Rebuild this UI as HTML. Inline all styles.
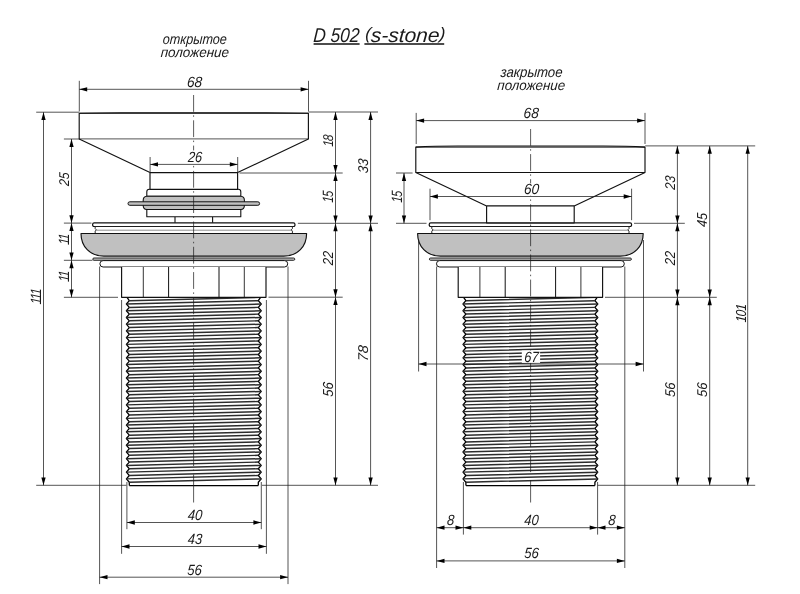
<!DOCTYPE html>
<html lang="ru">
<head>
<meta charset="utf-8">
<title>D 502 (s-stone)</title>
<style>
html,body{margin:0;padding:0;background:#fff;}
body{width:800px;height:594px;overflow:hidden;font-family:"Liberation Sans","DejaVu Sans",sans-serif;}
svg{display:block;filter:grayscale(1);}
</style>
</head>
<body>
<svg width="800" height="594" viewBox="0 0 800 594" font-family="'Liberation Sans', 'DejaVu Sans', sans-serif" font-style="italic" fill="#1a1a1a">
<rect width="800" height="594" fill="#fff"/>
<g id="left-part">
<path d="M94.2,222.8 H293.4 Q295,222.8 295,224.4 Q295,226.5 293.4,226.5 H94.2 Q92.6,226.5 92.6,224.4 Q92.6,222.8 94.2,222.8 Z" fill="#fff" stroke="#111" stroke-width="1.2" stroke-linejoin="round"/>
<path d="M95.2,226.5 L95.2,228.6 L96.4,229.9 L95.2,231.1 L95.2,233.5 H292.4 L292.4,231.1 L291.2,229.9 L292.4,228.6 L292.4,226.5 Z" fill="#fff" stroke="#111" stroke-width="0.9" stroke-linejoin="round"/>
<line x1="96.4" y1="230.2" x2="291.2" y2="230.2" stroke="#444" stroke-width="0.6"/>
<path d="M81,233.5 H306.6 C306.6,246.5 297.6,256.1 283.8,256.1 H103.8 C90,256.1 81,246.5 81,233.5 Z" fill="#c0c0c0" stroke="#111" stroke-width="1.15" stroke-linejoin="round"/>
<path d="M93.95,258 H293.65 A1.15,1.15 0 0 1 293.65,260.3 H93.95 A1.15,1.15 0 0 1 93.95,258 Z" fill="#c0c0c0" stroke="#111" stroke-width="0.9" stroke-linejoin="round"/>
<path d="M103.1,260.6 H284.5 A3.2,3.2 0 0 1 284.5,267 H103.1 A3.2,3.2 0 0 1 103.1,260.6 Z" fill="#fff" stroke="#111" stroke-width="1.0" stroke-linejoin="round"/>
<rect x="129.3" y="297.3" width="129" height="188.3" fill="#fff"/>
<path d="M127,297.3 L129.3,300.66 L126.4,304.03 L129.3,307.39 L126.4,310.75 L129.3,314.11 L126.4,317.48 L129.3,320.84 L126.4,324.2 L129.3,327.56 L126.4,330.93 L129.3,334.29 L126.4,337.65 L129.3,341.01 L126.4,344.38 L129.3,347.74 L126.4,351.1 L129.3,354.46 L126.4,357.83 L129.3,361.19 L126.4,364.55 L129.3,367.91 L126.4,371.28 L129.3,374.64 L126.4,378 L129.3,381.36 L126.4,384.73 L129.3,388.09 L126.4,391.45 L129.3,394.81 L126.4,398.18 L129.3,401.54 L126.4,404.9 L129.3,408.26 L126.4,411.62 L129.3,414.99 L126.4,418.35 L129.3,421.71 L126.4,425.08 L129.3,428.44 L126.4,431.8 L129.3,435.16 L126.4,438.53 L129.3,441.89 L126.4,445.25 L129.3,448.61 L126.4,451.98 L129.3,455.34 L126.4,458.7 L129.3,462.06 L126.4,465.43 L129.3,468.79 L126.4,472.15 L129.3,475.51 L126.4,478.88 L129.3,482.24 L129.3,485.6" fill="none" stroke="#000" stroke-width="1.3" stroke-linejoin="round"/>
<path d="M260.6,297.3 L258.3,300.66 L261.2,304.03 L258.3,307.39 L261.2,310.75 L258.3,314.11 L261.2,317.48 L258.3,320.84 L261.2,324.2 L258.3,327.56 L261.2,330.93 L258.3,334.29 L261.2,337.65 L258.3,341.01 L261.2,344.38 L258.3,347.74 L261.2,351.1 L258.3,354.46 L261.2,357.83 L258.3,361.19 L261.2,364.55 L258.3,367.91 L261.2,371.28 L258.3,374.64 L261.2,378 L258.3,381.36 L261.2,384.73 L258.3,388.09 L261.2,391.45 L258.3,394.81 L261.2,398.18 L258.3,401.54 L261.2,404.9 L258.3,408.26 L261.2,411.62 L258.3,414.99 L261.2,418.35 L258.3,421.71 L261.2,425.08 L258.3,428.44 L261.2,431.8 L258.3,435.16 L261.2,438.53 L258.3,441.89 L261.2,445.25 L258.3,448.61 L261.2,451.98 L258.3,455.34 L261.2,458.7 L258.3,462.06 L261.2,465.43 L258.3,468.79 L261.2,472.15 L258.3,475.51 L261.2,478.88 L258.3,482.24 L258.3,485.6" fill="none" stroke="#000" stroke-width="1.3" stroke-linejoin="round"/>
<path d="M129.3,300.66 L261.2,297.3 M129.3,307.39 L261.2,304.03 M129.3,314.11 L261.2,310.75 M129.3,320.84 L261.2,317.48 M129.3,327.56 L261.2,324.2 M129.3,334.29 L261.2,330.93 M129.3,341.01 L261.2,337.65 M129.3,347.74 L261.2,344.38 M129.3,354.46 L261.2,351.1 M129.3,361.19 L261.2,357.83 M129.3,367.91 L261.2,364.55 M129.3,374.64 L261.2,371.28 M129.3,381.36 L261.2,378 M129.3,388.09 L261.2,384.73 M129.3,394.81 L261.2,391.45 M129.3,401.54 L261.2,398.18 M129.3,408.26 L261.2,404.9 M129.3,414.99 L261.2,411.62 M129.3,421.71 L261.2,418.35 M129.3,428.44 L261.2,425.08 M129.3,435.16 L261.2,431.8 M129.3,441.89 L261.2,438.53 M129.3,448.61 L261.2,445.25 M129.3,455.34 L261.2,451.98 M129.3,462.06 L261.2,458.7 M129.3,468.79 L261.2,465.43 M129.3,475.51 L261.2,472.15 M129.3,482.24 L261.2,478.88" fill="none" stroke="#2c2c2c" stroke-width="1.5" stroke-linejoin="round"/>
<path d="M126.4,304.03 L258.3,300.66 M126.4,310.75 L258.3,307.39 M126.4,317.48 L258.3,314.11 M126.4,324.2 L258.3,320.84 M126.4,330.93 L258.3,327.56 M126.4,337.65 L258.3,334.29 M126.4,344.38 L258.3,341.01 M126.4,351.1 L258.3,347.74 M126.4,357.83 L258.3,354.46 M126.4,364.55 L258.3,361.19 M126.4,371.28 L258.3,367.91 M126.4,378 L258.3,374.64 M126.4,384.73 L258.3,381.36 M126.4,391.45 L258.3,388.09 M126.4,398.18 L258.3,394.81 M126.4,404.9 L258.3,401.54 M126.4,411.62 L258.3,408.26 M126.4,418.35 L258.3,414.99 M126.4,425.08 L258.3,421.71 M126.4,431.8 L258.3,428.44 M126.4,438.53 L258.3,435.16 M126.4,445.25 L258.3,441.89 M126.4,451.98 L258.3,448.61 M126.4,458.7 L258.3,455.34 M126.4,465.43 L258.3,462.06 M126.4,472.15 L258.3,468.79 M126.4,478.88 L258.3,475.51" fill="none" stroke="#2c2c2c" stroke-width="1.45" stroke-linejoin="round"/>
<path d="M129.3,485.6 H258.3" fill="none" stroke="#000" stroke-width="1.1" stroke-linejoin="round"/>
<path d="M121.6,267 V297.3 H266 V267" fill="#fff" stroke="#111" stroke-width="1.15" stroke-linejoin="round"/>
<line x1="143.3" y1="267" x2="143.3" y2="297.3" stroke="#111" stroke-width="0.85"/>
<line x1="168.6" y1="267" x2="168.6" y2="297.3" stroke="#111" stroke-width="1.0"/>
<line x1="219" y1="267" x2="219" y2="297.3" stroke="#111" stroke-width="1.0"/>
<line x1="244.3" y1="267" x2="244.3" y2="297.3" stroke="#111" stroke-width="0.85"/>
<path d="M175,216.7 V222.8 M212.6,216.7 V222.8" fill="none" stroke="#111" stroke-width="1.1" stroke-linejoin="round"/>
<path d="M146.8,209.5 V216.7 H240.8 V209.5 Z" fill="#fff" stroke="#111" stroke-width="1.1" stroke-linejoin="round"/>
<path d="M146.8,196.2 V191.8 Q146.8,189.3 149.3,189.3 H238.3 Q240.8,189.3 240.8,191.8 V196.2 Z" fill="#fff" stroke="#111" stroke-width="1.1" stroke-linejoin="round"/>
<path d="M146.8,196.2 H240.8 Q244.4,196.5 244.4,200.2 V205.5 Q244.4,209.2 240.8,209.5 H146.8 Q143.2,209.2 143.2,205.5 V200.2 Q143.2,196.5 146.8,196.2 Z" fill="#c0c0c0" stroke="#111" stroke-width="1.1" stroke-linejoin="round"/>
<path d="M129.75,201.8 H257.85 A1.75,1.75 0 0 1 257.85,205.3 H129.75 A1.75,1.75 0 0 1 129.75,201.8 Z" fill="#c0c0c0" stroke="#111" stroke-width="1.0" stroke-linejoin="round"/>
<path d="M79.2,113.25 Q97.2,112.75 121.2,112.75 H266.4 Q290.4,112.75 308.4,113.25 V138.9 L237.6,172.6 V189.3 H150 V172.6 L79.2,138.9 Z" fill="#fff" stroke="#111" stroke-width="1.15" stroke-linejoin="round"/>
<line x1="79.2" y1="113.25" x2="308.4" y2="113.25" stroke="#111" stroke-width="1.0"/>
<line x1="79.2" y1="138.9" x2="308.4" y2="138.9" stroke="#1c1c1c" stroke-width="0.75"/>
<line x1="150" y1="172.6" x2="237.6" y2="172.6" stroke="#111" stroke-width="1.1"/>
</g>
<g id="right-part">
<path d="M430.8,222.8 H630 Q631.6,222.8 631.6,224.4 Q631.6,226.5 630,226.5 H430.8 Q429.2,226.5 429.2,224.4 Q429.2,222.8 430.8,222.8 Z" fill="#fff" stroke="#111" stroke-width="1.2" stroke-linejoin="round"/>
<path d="M431.8,226.5 L431.8,228.6 L433,229.9 L431.8,231.1 L431.8,233.5 H629 L629,231.1 L627.8,229.9 L629,228.6 L629,226.5 Z" fill="#fff" stroke="#111" stroke-width="0.9" stroke-linejoin="round"/>
<line x1="433" y1="230.2" x2="627.8" y2="230.2" stroke="#444" stroke-width="0.6"/>
<path d="M417.6,233.5 H643.2 C643.2,246.5 634.2,256.1 620.4,256.1 H440.4 C426.6,256.1 417.6,246.5 417.6,233.5 Z" fill="#c0c0c0" stroke="#111" stroke-width="1.15" stroke-linejoin="round"/>
<path d="M430.55,258 H630.25 A1.15,1.15 0 0 1 630.25,260.3 H430.55 A1.15,1.15 0 0 1 430.55,258 Z" fill="#c0c0c0" stroke="#111" stroke-width="0.9" stroke-linejoin="round"/>
<path d="M439.7,260.6 H621.1 A3.2,3.2 0 0 1 621.1,267 H439.7 A3.2,3.2 0 0 1 439.7,260.6 Z" fill="#fff" stroke="#111" stroke-width="1.0" stroke-linejoin="round"/>
<rect x="465.9" y="297.3" width="129" height="188.3" fill="#fff"/>
<path d="M463.6,297.3 L465.9,300.66 L463,304.03 L465.9,307.39 L463,310.75 L465.9,314.11 L463,317.48 L465.9,320.84 L463,324.2 L465.9,327.56 L463,330.93 L465.9,334.29 L463,337.65 L465.9,341.01 L463,344.38 L465.9,347.74 L463,351.1 L465.9,354.46 L463,357.83 L465.9,361.19 L463,364.55 L465.9,367.91 L463,371.28 L465.9,374.64 L463,378 L465.9,381.36 L463,384.73 L465.9,388.09 L463,391.45 L465.9,394.81 L463,398.18 L465.9,401.54 L463,404.9 L465.9,408.26 L463,411.62 L465.9,414.99 L463,418.35 L465.9,421.71 L463,425.08 L465.9,428.44 L463,431.8 L465.9,435.16 L463,438.53 L465.9,441.89 L463,445.25 L465.9,448.61 L463,451.98 L465.9,455.34 L463,458.7 L465.9,462.06 L463,465.43 L465.9,468.79 L463,472.15 L465.9,475.51 L463,478.88 L465.9,482.24 L465.9,485.6" fill="none" stroke="#000" stroke-width="1.3" stroke-linejoin="round"/>
<path d="M597.2,297.3 L594.9,300.66 L597.8,304.03 L594.9,307.39 L597.8,310.75 L594.9,314.11 L597.8,317.48 L594.9,320.84 L597.8,324.2 L594.9,327.56 L597.8,330.93 L594.9,334.29 L597.8,337.65 L594.9,341.01 L597.8,344.38 L594.9,347.74 L597.8,351.1 L594.9,354.46 L597.8,357.83 L594.9,361.19 L597.8,364.55 L594.9,367.91 L597.8,371.28 L594.9,374.64 L597.8,378 L594.9,381.36 L597.8,384.73 L594.9,388.09 L597.8,391.45 L594.9,394.81 L597.8,398.18 L594.9,401.54 L597.8,404.9 L594.9,408.26 L597.8,411.62 L594.9,414.99 L597.8,418.35 L594.9,421.71 L597.8,425.08 L594.9,428.44 L597.8,431.8 L594.9,435.16 L597.8,438.53 L594.9,441.89 L597.8,445.25 L594.9,448.61 L597.8,451.98 L594.9,455.34 L597.8,458.7 L594.9,462.06 L597.8,465.43 L594.9,468.79 L597.8,472.15 L594.9,475.51 L597.8,478.88 L594.9,482.24 L594.9,485.6" fill="none" stroke="#000" stroke-width="1.3" stroke-linejoin="round"/>
<path d="M465.9,300.66 L597.8,297.3 M465.9,307.39 L597.8,304.03 M465.9,314.11 L597.8,310.75 M465.9,320.84 L597.8,317.48 M465.9,327.56 L597.8,324.2 M465.9,334.29 L597.8,330.93 M465.9,341.01 L597.8,337.65 M465.9,347.74 L597.8,344.38 M465.9,354.46 L597.8,351.1 M465.9,361.19 L597.8,357.83 M465.9,367.91 L597.8,364.55 M465.9,374.64 L597.8,371.28 M465.9,381.36 L597.8,378 M465.9,388.09 L597.8,384.73 M465.9,394.81 L597.8,391.45 M465.9,401.54 L597.8,398.18 M465.9,408.26 L597.8,404.9 M465.9,414.99 L597.8,411.62 M465.9,421.71 L597.8,418.35 M465.9,428.44 L597.8,425.08 M465.9,435.16 L597.8,431.8 M465.9,441.89 L597.8,438.53 M465.9,448.61 L597.8,445.25 M465.9,455.34 L597.8,451.98 M465.9,462.06 L597.8,458.7 M465.9,468.79 L597.8,465.43 M465.9,475.51 L597.8,472.15 M465.9,482.24 L597.8,478.88" fill="none" stroke="#2c2c2c" stroke-width="1.5" stroke-linejoin="round"/>
<path d="M463,304.03 L594.9,300.66 M463,310.75 L594.9,307.39 M463,317.48 L594.9,314.11 M463,324.2 L594.9,320.84 M463,330.93 L594.9,327.56 M463,337.65 L594.9,334.29 M463,344.38 L594.9,341.01 M463,351.1 L594.9,347.74 M463,357.83 L594.9,354.46 M463,364.55 L594.9,361.19 M463,371.28 L594.9,367.91 M463,378 L594.9,374.64 M463,384.73 L594.9,381.36 M463,391.45 L594.9,388.09 M463,398.18 L594.9,394.81 M463,404.9 L594.9,401.54 M463,411.62 L594.9,408.26 M463,418.35 L594.9,414.99 M463,425.08 L594.9,421.71 M463,431.8 L594.9,428.44 M463,438.53 L594.9,435.16 M463,445.25 L594.9,441.89 M463,451.98 L594.9,448.61 M463,458.7 L594.9,455.34 M463,465.43 L594.9,462.06 M463,472.15 L594.9,468.79 M463,478.88 L594.9,475.51" fill="none" stroke="#2c2c2c" stroke-width="1.45" stroke-linejoin="round"/>
<path d="M465.9,485.6 H594.9" fill="none" stroke="#000" stroke-width="1.1" stroke-linejoin="round"/>
<path d="M458.2,267 V297.3 H602.6 V267" fill="#fff" stroke="#111" stroke-width="1.15" stroke-linejoin="round"/>
<line x1="479.9" y1="267" x2="479.9" y2="297.3" stroke="#111" stroke-width="0.85"/>
<line x1="505.2" y1="267" x2="505.2" y2="297.3" stroke="#111" stroke-width="1.0"/>
<line x1="555.6" y1="267" x2="555.6" y2="297.3" stroke="#111" stroke-width="1.0"/>
<line x1="580.9" y1="267" x2="580.9" y2="297.3" stroke="#111" stroke-width="0.85"/>
<path d="M415.8,147.1 Q433.8,146 457.8,146 H603 Q627,146 645,147.1 V172.5 L574.2,205.9 V222.8 H486.6 V205.9 L415.8,172.5 Z" fill="#fff" stroke="#111" stroke-width="1.15" stroke-linejoin="round"/>
<line x1="415.8" y1="147.1" x2="645" y2="147.1" stroke="#111" stroke-width="1.0"/>
<line x1="415.8" y1="172.5" x2="645" y2="172.5" stroke="#111" stroke-width="1.2"/>
<line x1="486.6" y1="205.9" x2="574.2" y2="205.9" stroke="#111" stroke-width="1.1"/>
</g>
<path d="M193.6,95 V111.8 M193.6,115.3 V116.8 M193.6,120.3 V137.1 M193.6,140.6 V142.1 M193.6,145.6 V162.4 M193.6,165.9 V167.4 M193.6,170.9 V187.7 M193.6,191.2 V192.7 M193.6,196.2 V213 M193.6,216.5 V218 M193.6,221.5 V238.3 M193.6,241.8 V243.3 M193.6,246.8 V263.6 M193.6,267.1 V268.6 M193.6,272.1 V288.9 M193.6,292.4 V293.9 M193.6,297.4 V314.2 M193.6,317.7 V319.2 M193.6,322.7 V339.5 M193.6,343 V344.5 M193.6,348 V364.8 M193.6,368.3 V369.8 M193.6,373.3 V390.1 M193.6,393.6 V395.1 M193.6,398.6 V415.4 M193.6,418.9 V420.4 M193.6,423.9 V440.7 M193.6,444.2 V445.7 M193.6,449.2 V466 M193.6,469.5 V471 M193.6,474.5 V502.5" fill="none" stroke="#1c1c1c" stroke-width="0.72" stroke-linejoin="round"/>
<path d="M530.6,129 V145.8 M530.6,149.2 V150.7 M530.6,154.1 V170.9 M530.6,174.3 V175.8 M530.6,179.2 V196 M530.6,199.4 V200.9 M530.6,204.3 V221.1 M530.6,224.5 V226 M530.6,229.4 V246.2 M530.6,249.6 V251.1 M530.6,254.5 V271.3 M530.6,274.7 V276.2 M530.6,279.6 V296.4 M530.6,299.8 V301.3 M530.6,304.7 V321.5 M530.6,324.9 V326.4 M530.6,329.8 V346.6 M530.6,350 V351.5 M530.6,354.9 V371.7 M530.6,375.1 V376.6 M530.6,380 V396.8 M530.6,400.2 V401.7 M530.6,405.1 V421.9 M530.6,425.3 V426.8 M530.6,430.2 V447 M530.6,450.4 V451.9 M530.6,455.3 V472.1 M530.6,480 V502.5" fill="none" stroke="#1c1c1c" stroke-width="0.72" stroke-linejoin="round"/>
<rect x="186.2" y="150.4" width="17" height="13.2" fill="#fff"/>
<rect x="523" y="183.4" width="17.6" height="12.3" fill="#fff"/>
<g id="dims-left">
<line x1="79.3" y1="80.8" x2="79.3" y2="111.5" stroke="#1c1c1c" stroke-width="0.75"/>
<line x1="308.5" y1="80.8" x2="308.5" y2="111.5" stroke="#1c1c1c" stroke-width="0.75"/>
<line x1="79.3" y1="89.3" x2="308.5" y2="89.3" stroke="#1c1c1c" stroke-width="0.75"/>
<polygon points="79.3,89.3 87.2,87.15 87.2,91.45" fill="#000"/>
<polygon points="308.5,89.3 300.6,87.15 300.6,91.45" fill="#000"/>
<text id="t1" transform="translate(194.23 86.75) skewX(-4) scale(0.9470 1.0310)" font-size="14.4" text-anchor="middle">68</text>
<line x1="150.1" y1="157" x2="150.1" y2="172" stroke="#1c1c1c" stroke-width="0.75"/>
<line x1="237.7" y1="157" x2="237.7" y2="172" stroke="#1c1c1c" stroke-width="0.75"/>
<line x1="150.1" y1="164.4" x2="237.7" y2="164.4" stroke="#1c1c1c" stroke-width="0.75"/>
<polygon points="150.1,164.4 158,162.25 158,166.55" fill="#000"/>
<polygon points="237.7,164.4 229.8,162.25 229.8,166.55" fill="#000"/>
<text id="t2" transform="translate(194.78 161.75) skewX(-4) scale(0.8830 1.0310)" font-size="14.4" text-anchor="middle">26</text>
<line x1="36.2" y1="112.2" x2="79" y2="112.2" stroke="#1c1c1c" stroke-width="0.75"/>
<line x1="36.2" y1="485.3" x2="126.4" y2="485.3" stroke="#1c1c1c" stroke-width="0.75"/>
<line x1="43.5" y1="112.2" x2="43.5" y2="485.3" stroke="#1c1c1c" stroke-width="0.75"/>
<polygon points="43.5,112.2 41.35,120.1 45.65,120.1" fill="#000"/>
<polygon points="43.5,485.3 41.35,477.4 45.65,477.4" fill="#000"/>
<text id="t3" transform="translate(41.25 296.57) rotate(-90) skewX(-4) scale(0.8370 1.0310)" font-size="14.4" text-anchor="middle" dx="0 -1.5 -1.5">111</text>
<line x1="63.9" y1="139" x2="80" y2="139" stroke="#1c1c1c" stroke-width="0.75"/>
<line x1="63.9" y1="223.1" x2="91.5" y2="223.1" stroke="#1c1c1c" stroke-width="0.75"/>
<line x1="71.5" y1="139" x2="71.5" y2="223.1" stroke="#1c1c1c" stroke-width="0.75"/>
<polygon points="71.5,139 69.35,146.9 73.65,146.9" fill="#000"/>
<polygon points="71.5,223.1 69.35,215.2 73.65,215.2" fill="#000"/>
<text id="t4" transform="translate(69.04 179.46) rotate(-90) skewX(-4) scale(0.8545 0.9846)" font-size="14.4" text-anchor="middle">25</text>
<line x1="63.9" y1="260.3" x2="92.5" y2="260.3" stroke="#1c1c1c" stroke-width="0.75"/>
<line x1="63.9" y1="297.3" x2="118" y2="297.3" stroke="#1c1c1c" stroke-width="0.75"/>
<line x1="71.5" y1="223.1" x2="71.5" y2="260.3" stroke="#1c1c1c" stroke-width="0.75"/>
<polygon points="71.5,223.1 69.35,231 73.65,231" fill="#000"/>
<polygon points="71.5,260.3 69.35,252.4 73.65,252.4" fill="#000"/>
<line x1="71.5" y1="260.3" x2="71.5" y2="297.3" stroke="#1c1c1c" stroke-width="0.75"/>
<polygon points="71.5,260.3 69.35,268.2 73.65,268.2" fill="#000"/>
<polygon points="71.5,297.3 69.35,289.4 73.65,289.4" fill="#000"/>
<text id="t5" transform="translate(69.25 239.48) rotate(-90) skewX(-4) scale(0.8261 1.0310)" font-size="14.4" text-anchor="middle" dx="0 -1.5">11</text>
<text id="t6" transform="translate(69.25 276.53) rotate(-90) skewX(-4) scale(0.8288 1.0310)" font-size="14.4" text-anchor="middle" dx="0 -1.5">11</text>
<line x1="308.5" y1="112" x2="378" y2="112" stroke="#1c1c1c" stroke-width="0.75"/>
<line x1="239.5" y1="173" x2="342.7" y2="173" stroke="#1c1c1c" stroke-width="0.75"/>
<line x1="297.9" y1="223.3" x2="378" y2="223.3" stroke="#1c1c1c" stroke-width="0.75"/>
<line x1="268.5" y1="297.2" x2="342.7" y2="297.2" stroke="#1c1c1c" stroke-width="0.75"/>
<line x1="262" y1="485.3" x2="378" y2="485.3" stroke="#1c1c1c" stroke-width="0.75"/>
<line x1="335.5" y1="112" x2="335.5" y2="173" stroke="#1c1c1c" stroke-width="0.75"/>
<polygon points="335.5,112 333.35,119.9 337.65,119.9" fill="#000"/>
<polygon points="335.5,173 333.35,165.1 337.65,165.1" fill="#000"/>
<line x1="335.5" y1="173" x2="335.5" y2="223.3" stroke="#1c1c1c" stroke-width="0.75"/>
<polygon points="335.5,173 333.35,180.9 337.65,180.9" fill="#000"/>
<polygon points="335.5,223.3 333.35,215.4 337.65,215.4" fill="#000"/>
<line x1="335.5" y1="223.3" x2="335.5" y2="297.2" stroke="#1c1c1c" stroke-width="0.75"/>
<polygon points="335.5,223.3 333.35,231.2 337.65,231.2" fill="#000"/>
<polygon points="335.5,297.2 333.35,289.3 337.65,289.3" fill="#000"/>
<line x1="335.5" y1="297.2" x2="335.5" y2="485.3" stroke="#1c1c1c" stroke-width="0.75"/>
<polygon points="335.5,297.2 333.35,305.1 337.65,305.1" fill="#000"/>
<polygon points="335.5,485.3 333.35,477.4 337.65,477.4" fill="#000"/>
<line x1="370.6" y1="112" x2="370.6" y2="223.3" stroke="#1c1c1c" stroke-width="0.75"/>
<polygon points="370.6,112 368.45,119.9 372.75,119.9" fill="#000"/>
<polygon points="370.6,223.3 368.45,215.4 372.75,215.4" fill="#000"/>
<line x1="370.6" y1="223.3" x2="370.6" y2="485.3" stroke="#1c1c1c" stroke-width="0.75"/>
<polygon points="370.6,223.3 368.45,231.2 372.75,231.2" fill="#000"/>
<polygon points="370.6,485.3 368.45,477.4 372.75,477.4" fill="#000"/>
<text id="t7" transform="translate(333.01 140.96) rotate(-90) skewX(-4) scale(0.7881 0.9820)" font-size="14.4" text-anchor="middle" dx="0 -1">18</text>
<text id="t8" transform="translate(333.29 196.82) rotate(-90) skewX(-4) scale(0.7760 1.0342)" font-size="14.4" text-anchor="middle" dx="0 -1">15</text>
<text id="t9" transform="translate(333.25 258.47) rotate(-90) skewX(-4) scale(0.8836 1.0059)" font-size="14.4" text-anchor="middle">22</text>
<text id="t10" transform="translate(333.25 389.76) rotate(-90) skewX(-4) scale(0.9132 1.0059)" font-size="14.4" text-anchor="middle">56</text>
<text id="t11" transform="translate(368 166.23) rotate(-90) skewX(-4) scale(0.9132 0.9814)" font-size="14.4" text-anchor="middle">33</text>
<text id="t12" transform="translate(368 353.43) rotate(-90) skewX(-4) scale(0.9990 0.9840)" font-size="14.4" text-anchor="middle">78</text>
<line x1="99.6" y1="266.5" x2="99.6" y2="584.1" stroke="#1c1c1c" stroke-width="0.75"/>
<line x1="288" y1="266.5" x2="288" y2="584.1" stroke="#1c1c1c" stroke-width="0.75"/>
<line x1="121.6" y1="300" x2="121.6" y2="553.8" stroke="#1c1c1c" stroke-width="0.75"/>
<line x1="266.4" y1="300" x2="266.4" y2="553.8" stroke="#1c1c1c" stroke-width="0.75"/>
<line x1="126.9" y1="482" x2="126.9" y2="529.2" stroke="#1c1c1c" stroke-width="0.75"/>
<line x1="261.3" y1="482" x2="261.3" y2="529.2" stroke="#1c1c1c" stroke-width="0.75"/>
<line x1="126.9" y1="522.5" x2="261.3" y2="522.5" stroke="#1c1c1c" stroke-width="0.75"/>
<polygon points="126.9,522.5 134.8,520.35 134.8,524.65" fill="#000"/>
<polygon points="261.3,522.5 253.4,520.35 253.4,524.65" fill="#000"/>
<line x1="121.6" y1="546.5" x2="266.4" y2="546.5" stroke="#1c1c1c" stroke-width="0.75"/>
<polygon points="121.6,546.5 129.5,544.35 129.5,548.65" fill="#000"/>
<polygon points="266.4,546.5 258.5,544.35 258.5,548.65" fill="#000"/>
<line x1="99.6" y1="577.2" x2="288" y2="577.2" stroke="#1c1c1c" stroke-width="0.75"/>
<polygon points="99.6,577.2 107.5,575.05 107.5,579.35" fill="#000"/>
<polygon points="288,577.2 280.1,575.05 280.1,579.35" fill="#000"/>
<text id="t13" transform="translate(194.77 520) skewX(-4) scale(0.9141 1.0310)" font-size="14.4" text-anchor="middle">40</text>
<text id="t14" transform="translate(194.65 544) skewX(-4) scale(0.8975 1.0310)" font-size="14.4" text-anchor="middle">43</text>
<text id="t15" transform="translate(194.26 574.75) skewX(-4) scale(0.9126 1.0310)" font-size="14.4" text-anchor="middle">56</text>
</g>
<g id="dims-right">
<line x1="416.2" y1="112.9" x2="416.2" y2="144" stroke="#1c1c1c" stroke-width="0.75"/>
<line x1="645" y1="112.9" x2="645" y2="144" stroke="#1c1c1c" stroke-width="0.75"/>
<line x1="416.2" y1="120.6" x2="645" y2="120.6" stroke="#1c1c1c" stroke-width="0.75"/>
<polygon points="416.2,120.6 424.1,118.45 424.1,122.75" fill="#000"/>
<polygon points="645,120.6 637.1,118.45 637.1,122.75" fill="#000"/>
<text id="t16" transform="translate(530.95 118) skewX(-4) scale(0.9473 1.0310)" font-size="14.4" text-anchor="middle">68</text>
<line x1="430" y1="188.7" x2="430" y2="220.2" stroke="#1c1c1c" stroke-width="0.75"/>
<line x1="631.6" y1="188.7" x2="631.6" y2="220.2" stroke="#1c1c1c" stroke-width="0.75"/>
<line x1="430" y1="196.5" x2="631.6" y2="196.5" stroke="#1c1c1c" stroke-width="0.75"/>
<polygon points="430,196.5 437.9,194.35 437.9,198.65" fill="#000"/>
<polygon points="631.6,196.5 623.7,194.35 623.7,198.65" fill="#000"/>
<text id="t17" transform="translate(531.22 194) skewX(-4) scale(0.9468 1.0310)" font-size="14.4" text-anchor="middle">60</text>
<line x1="396" y1="173" x2="412.6" y2="173" stroke="#1c1c1c" stroke-width="0.75"/>
<line x1="396" y1="223.3" x2="426.5" y2="223.3" stroke="#1c1c1c" stroke-width="0.75"/>
<line x1="404" y1="173" x2="404" y2="223.3" stroke="#1c1c1c" stroke-width="0.75"/>
<polygon points="404,173 401.85,180.9 406.15,180.9" fill="#000"/>
<polygon points="404,223.3 401.85,215.4 406.15,215.4" fill="#000"/>
<text id="t18" transform="translate(401.79 196.82) rotate(-90) skewX(-4) scale(0.7760 1.0342)" font-size="14.4" text-anchor="middle" dx="0 -1">15</text>
<line x1="418.6" y1="240" x2="418.6" y2="371.5" stroke="#1c1c1c" stroke-width="0.75"/>
<line x1="643.5" y1="240" x2="643.5" y2="371.5" stroke="#1c1c1c" stroke-width="0.75"/>
<line x1="418.6" y1="364" x2="643.5" y2="364" stroke="#1c1c1c" stroke-width="0.75"/>
<polygon points="418.6,364 426.5,361.85 426.5,366.15" fill="#000"/>
<polygon points="643.5,364 635.6,361.85 635.6,366.15" fill="#000"/>
<rect x="521.8" y="350.5" width="18.3" height="12.4" fill="#fff"/>
<text id="t19" transform="translate(531.16 361.75) skewX(-4) scale(0.8986 1.0310)" font-size="14.4" text-anchor="middle">67</text>
<line x1="645.2" y1="145.9" x2="755.2" y2="145.9" stroke="#1c1c1c" stroke-width="0.75"/>
<line x1="634" y1="223.3" x2="684.8" y2="223.3" stroke="#1c1c1c" stroke-width="0.75"/>
<line x1="605" y1="297.3" x2="716.8" y2="297.3" stroke="#1c1c1c" stroke-width="0.75"/>
<line x1="597.6" y1="485.3" x2="755.2" y2="485.3" stroke="#1c1c1c" stroke-width="0.75"/>
<line x1="677.4" y1="145.9" x2="677.4" y2="223.3" stroke="#1c1c1c" stroke-width="0.75"/>
<polygon points="677.4,145.9 675.25,153.8 679.55,153.8" fill="#000"/>
<polygon points="677.4,223.3 675.25,215.4 679.55,215.4" fill="#000"/>
<line x1="677.4" y1="223.3" x2="677.4" y2="297.3" stroke="#1c1c1c" stroke-width="0.75"/>
<polygon points="677.4,223.3 675.25,231.2 679.55,231.2" fill="#000"/>
<polygon points="677.4,297.3 675.25,289.4 679.55,289.4" fill="#000"/>
<line x1="677.4" y1="297.3" x2="677.4" y2="485.3" stroke="#1c1c1c" stroke-width="0.75"/>
<polygon points="677.4,297.3 675.25,305.2 679.55,305.2" fill="#000"/>
<polygon points="677.4,485.3 675.25,477.4 679.55,477.4" fill="#000"/>
<line x1="709.7" y1="145.9" x2="709.7" y2="297.3" stroke="#1c1c1c" stroke-width="0.75"/>
<polygon points="709.7,145.9 707.55,153.8 711.85,153.8" fill="#000"/>
<polygon points="709.7,297.3 707.55,289.4 711.85,289.4" fill="#000"/>
<line x1="709.7" y1="297.3" x2="709.7" y2="485.3" stroke="#1c1c1c" stroke-width="0.75"/>
<polygon points="709.7,297.3 707.55,305.2 711.85,305.2" fill="#000"/>
<polygon points="709.7,485.3 707.55,477.4 711.85,477.4" fill="#000"/>
<line x1="747.7" y1="145.9" x2="747.7" y2="485.3" stroke="#1c1c1c" stroke-width="0.75"/>
<polygon points="747.7,145.9 745.55,153.8 749.85,153.8" fill="#000"/>
<polygon points="747.7,485.3 745.55,477.4 749.85,477.4" fill="#000"/>
<text id="t20" transform="translate(675.02 182.97) rotate(-90) skewX(-4) scale(0.8832 0.9846)" font-size="14.4" text-anchor="middle">23</text>
<text id="t21" transform="translate(675.25 258.48) rotate(-90) skewX(-4) scale(0.8838 1.0059)" font-size="14.4" text-anchor="middle">22</text>
<text id="t22" transform="translate(674.79 390.01) rotate(-90) skewX(-4) scale(0.9132 0.9850)" font-size="14.4" text-anchor="middle">56</text>
<text id="t23" transform="translate(707.24 220.22) rotate(-90) skewX(-4) scale(0.8823 1.0070)" font-size="14.4" text-anchor="middle">45</text>
<text id="t24" transform="translate(707.28 390.01) rotate(-90) skewX(-4) scale(0.9132 0.9850)" font-size="14.4" text-anchor="middle">56</text>
<text id="t25" transform="translate(745.51 313.36) rotate(-90) skewX(-4) scale(0.8201 1.0065)" font-size="14.4" text-anchor="middle" dx="0 -1 -0.5">101</text>
<line x1="436.6" y1="266.5" x2="436.6" y2="568" stroke="#1c1c1c" stroke-width="0.75"/>
<line x1="624.8" y1="266.5" x2="624.8" y2="568" stroke="#1c1c1c" stroke-width="0.75"/>
<line x1="463.4" y1="482" x2="463.4" y2="534.6" stroke="#1c1c1c" stroke-width="0.75"/>
<line x1="597.6" y1="482" x2="597.6" y2="534.6" stroke="#1c1c1c" stroke-width="0.75"/>
<line x1="436.6" y1="527.7" x2="624.8" y2="527.7" stroke="#1c1c1c" stroke-width="0.75"/>
<polygon points="436.6,527.7 444.5,525.55 444.5,529.85" fill="#000"/>
<polygon points="463.4,527.7 455.5,525.55 455.5,529.85" fill="#000"/>
<polygon points="463.4,527.7 471.3,525.55 471.3,529.85" fill="#000"/>
<polygon points="597.6,527.7 589.7,525.55 589.7,529.85" fill="#000"/>
<polygon points="597.6,527.7 605.5,525.55 605.5,529.85" fill="#000"/>
<polygon points="624.8,527.7 616.9,525.55 616.9,529.85" fill="#000"/>
<line x1="436.6" y1="560.9" x2="624.8" y2="560.9" stroke="#1c1c1c" stroke-width="0.75"/>
<polygon points="436.6,560.9 444.5,558.75 444.5,563.05" fill="#000"/>
<polygon points="624.8,560.9 616.9,558.75 616.9,563.05" fill="#000"/>
<text id="t26" transform="translate(450.47 525.25) skewX(-4) scale(0.9064 1.0310)" font-size="14.4" text-anchor="middle">8</text>
<text id="t27" transform="translate(531.15 525.25) skewX(-4) scale(0.8972 1.0310)" font-size="14.4" text-anchor="middle">40</text>
<text id="t28" transform="translate(611.75 525.25) skewX(-4) scale(0.9118 1.0310)" font-size="14.4" text-anchor="middle">8</text>
<text id="t29" transform="translate(531.27 558.25) skewX(-4) scale(0.9126 1.0310)" font-size="14.4" text-anchor="middle">56</text>
</g>
<g id="labels">
<text id="t30" transform="translate(194.48 44.15) skewX(-4) scale(0.8737 1.0057)" font-size="14.4" text-anchor="middle">открытое</text>
<text id="t31" transform="translate(194.61 57) skewX(-4) scale(0.9338 0.9677)" font-size="14.4" text-anchor="middle">положение</text>
<text id="t32" transform="translate(531.29 77.14) skewX(-4) scale(0.9138 1.0057)" font-size="14.4" text-anchor="middle">закрытое</text>
<text id="t33" transform="translate(531 90) skewX(-4) scale(0.9275 0.9677)" font-size="14.4" text-anchor="middle">положение</text>
<text id="t34" transform="translate(336.02 41.5) skewX(-4) scale(0.8623 1.0045)" font-size="20" text-anchor="middle">D 502</text>
<text id="t35" transform="translate(404.81 41.71) skewX(-4) scale(1.0484 1.0024)" font-size="20" text-anchor="middle"><tspan font-size="16.4" dy="-2.9">(</tspan><tspan dy="2.9">s-stone</tspan><tspan font-size="16.4" dy="-2.9">)</tspan></text>
<line x1="313.6" y1="44.1" x2="359.6" y2="44.1" stroke="#111" stroke-width="1.5"/>
<line x1="364.4" y1="44.1" x2="444.2" y2="44.1" stroke="#111" stroke-width="1.5"/>
</g>
</svg>
</body>
</html>
